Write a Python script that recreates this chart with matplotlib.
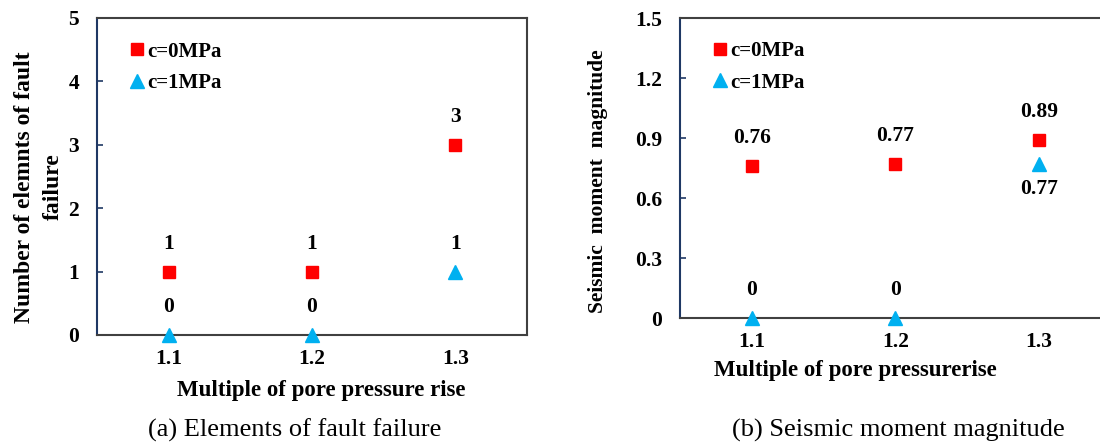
import matplotlib
matplotlib.use('Agg')
import matplotlib.pyplot as plt
from matplotlib.ticker import FuncFormatter

plt.rcParams['font.family'] = ['Liberation Serif', 'DejaVu Serif']

multiples = [1.1, 1.2, 1.3]
xtick_labels = ['1.1', '1.2', '1.3']

# (a) number of failed fault elements
fail_c0 = [1, 1, 3]
fail_c1 = [0, 0, 1]

# (b) seismic moment magnitude
mag_c0 = [0.76, 0.77, 0.89]
mag_c1 = [0, 0, 0.77]
mag_c1_text = ['0', '0', '0.77']

red = '#FF0000'
blue = '#00B0F0'
navy = '#1F3864'
gray = '#404040'

fig = plt.figure(figsize=(11, 4.44), dpi=100)
axA = fig.add_axes([97/1100, 1-335/444, 430/1100, 317/444])
axB = fig.add_axes([680/1100, 1-318/444, 431/1100, 300/444])


def style(ax):
    ax.set_xlim(1.05, 1.35)
    ax.set_xticks(multiples)
    ax.set_xticklabels(xtick_labels)
    for s in ['top', 'right', 'bottom']:
        ax.spines[s].set_color(gray)
        ax.spines[s].set_linewidth(1.5)
    ax.spines['left'].set_color(navy)
    ax.spines['left'].set_linewidth(1.5)
    ax.tick_params(axis='x', length=0, pad=10, labelsize=15.5)
    ax.tick_params(axis='y', direction='in', length=4, width=1.2, color=navy, pad=13, labelsize=15.5)
    for t in ax.get_xticklabels() + ax.get_yticklabels():
        t.set_fontweight('bold')


def put(ax, xs, ys, texts, dy):
    for x, y, t in zip(xs, ys, texts):
        ax.annotate(t, (x, y), xytext=(0, dy), textcoords='offset points',
                    ha='center', va='center', fontsize=15.5, fontweight='bold')


def legend(ax):
    ax.legend(loc='upper left', bbox_to_anchor=(0.035, 0.985), frameon=False, handlelength=0.6,
              handletextpad=0.2, labelspacing=0.55, markerscale=1.0,
              prop={'weight': 'bold', 'size': 15})


# panel a
axA.plot(multiples, fail_c0, 's', color=red, ms=9, label='c=0MPa', clip_on=False, zorder=5)
axA.plot(multiples, fail_c1, '^', color=blue, ms=10, label='c=1MPa', clip_on=False, zorder=5)
axA.set_ylim(0, 5)
axA.set_yticks([0, 1, 2, 3, 4, 5])
style(axA)
put(axA, multiples, fail_c0, [str(v) for v in fail_c0], 20)
put(axA, multiples, fail_c1, [str(v) for v in fail_c1], 20)
legend(axA)
axA.set_ylabel('Number of elemnts of fault\nfailure', fontsize=17, fontweight='bold',
               linespacing=1.45)
axA.yaxis.set_label_coords(-0.078, 0.467)

# panel b
axB.plot(multiples, mag_c0, 's', color=red, ms=9, label='c=0MPa', clip_on=False, zorder=5)
axB.plot(multiples, mag_c1, '^', color=blue, ms=10, label='c=1MPa', clip_on=False, zorder=5)
axB.set_ylim(0, 1.5)
axB.set_yticks([0, 0.3, 0.6, 0.9, 1.2, 1.5])
axB.yaxis.set_major_formatter(FuncFormatter(lambda v, p: '0' if v == 0 else '%.1f' % v))
style(axB)
put(axB, multiples, mag_c0, ['%.2f' % v for v in mag_c0], 20)
put(axB, multiples[:2], mag_c1[:2], mag_c1_text[:2], 20)
put(axB, multiples[2:], mag_c1[2:], mag_c1_text[2:], -18)
legend(axB)
axB.set_ylabel('Seismic  moment  magnitude', fontsize=15.5, fontweight='bold')
axB.yaxis.set_label_coords(-0.166, 0.455)

fig.text(321/1100, 1-390/444, 'Multiple of pore pressure rise', ha='center', va='center',
         fontsize=16.5, fontweight='bold')
fig.text(855/1100, 1-370/444, 'Multiple of pore pressurerise', ha='center', va='center',
         fontsize=16.5, fontweight='bold')
fig.text(295/1100, 1-430/444, '(a) Elements of fault failure', ha='center', va='center', fontsize=19)
fig.text(898/1100, 1-430/444, '(b) Seismic moment magnitude', ha='center', va='center', fontsize=19)

fig.savefig('out.png', dpi=100)
